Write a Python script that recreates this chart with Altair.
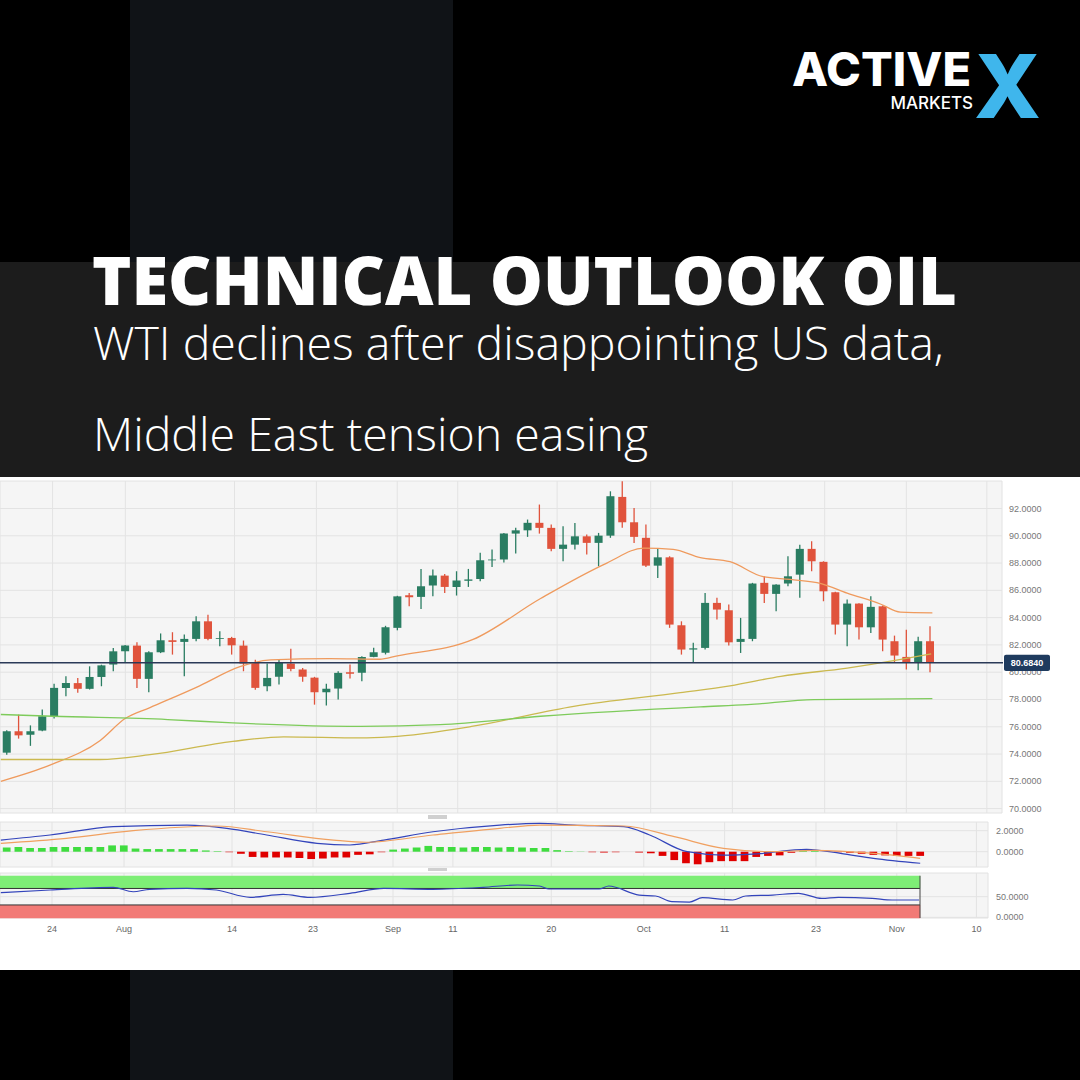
import altair as alt
import pandas as pd
import numpy as np

# ---------------- data ----------------
TITLE = "TECHNICAL OUTLOOK OIL"
SUB1 = "WTI declines after disappointing US data,"
SUB2 = "Middle East tension easing"

opens = [74.1, 75.67, 75.42, 75.72, 76.77, 78.85, 79.2, 78.78, 79.65, 80.56,
         81.53, 81.95, 79.51, 81.46, 82.34, 82.22, 82.44, 83.73, 82.44, 82.51,
         81.95, 80.68, 78.97, 79.66, 80.63, 80.19, 79.6, 78.53, 78.8, 80.0,
         79.95, 81.12, 81.42, 83.25, 85.64, 85.52, 86.35, 87.08, 86.25, 86.7,
         86.84, 88.2, 88.26, 90.16, 90.4, 90.95, 90.58, 89.04, 89.35, 89.96,
         89.48, 90.01, 92.85, 90.99, 89.85, 87.81, 88.42, 83.44, 81.66, 81.78,
         85.08, 84.54, 82.22, 82.44, 86.55, 85.74, 86.5, 87.15, 89.04, 88.09,
         85.86, 83.49, 85.03, 83.29, 84.83, 82.27, 81.12, 80.68, 82.27]
highs = [75.75, 76.89, 76.1, 77.26, 79.15, 79.7, 79.58, 80.43, 80.55, 81.78,
         82.0, 82.19, 81.53, 82.84, 82.93, 82.76, 84.1, 84.22, 83.0, 82.59,
         82.32, 80.92, 80.63, 80.92, 81.71, 80.3, 79.66, 79.16, 80.07, 80.56,
         81.17, 81.8, 83.4, 85.6, 85.81, 87.57, 87.52, 87.2, 87.4, 87.57,
         88.75, 88.99, 90.21, 90.58, 91.19, 92.29, 90.82, 90.7, 90.94, 90.09,
         90.21, 93.26, 94.0, 92.04, 90.82, 89.11, 88.5, 83.73, 82.15, 85.81,
         85.45, 84.96, 83.98, 86.55, 87.03, 86.45, 88.5, 89.35, 89.6, 88.13,
         85.9, 85.32, 85.06, 85.56, 84.88, 82.68, 83.12, 82.59, 83.37]
lows = [73.95, 75.13, 74.6, 75.67, 76.6, 78.23, 78.5, 78.73, 78.97, 80.07,
        80.68, 78.85, 78.53, 81.4, 81.29, 79.7, 82.27, 82.34, 81.9, 81.29,
        80.07, 78.72, 78.6, 79.1, 80.07, 79.3, 77.62, 77.55, 77.99, 79.53,
        79.33, 81.1, 81.3, 83.07, 84.83, 84.64, 85.56, 85.8, 85.62, 86.25,
        86.66, 87.72, 88.05, 88.7, 89.92, 90.16, 88.86, 88.13, 88.99, 88.62,
        87.76, 89.85, 90.58, 89.48, 87.72, 86.91, 83.25, 81.29, 80.68, 81.66,
        83.86, 81.95, 81.41, 82.27, 85.08, 84.46, 86.3, 85.45, 87.4, 85.2,
        82.76, 81.9, 82.39, 82.88, 81.53, 80.68, 80.19, 80.14, 80.0]
closes = [75.67, 75.37, 75.67, 76.77, 78.85, 79.2, 78.78, 79.65, 80.5, 81.53,
          81.95, 79.51, 81.46, 82.34, 82.22, 82.44, 83.73, 82.44, 82.5, 81.97,
          80.63, 78.85, 79.58, 80.68, 80.24, 79.66, 78.53, 78.78, 79.95, 79.88,
          81.12, 81.46, 83.29, 85.56, 85.49, 86.3, 87.08, 86.25, 86.72, 86.8,
          88.2, 88.26, 90.16, 90.4, 90.95, 90.58, 89.04, 89.35, 89.96, 89.48,
          90.01, 92.9, 90.99, 89.92, 87.81, 88.42, 83.49, 81.66, 81.75, 85.08,
          84.59, 82.19, 82.44, 86.5, 85.74, 86.42, 87.03, 89.04, 88.13, 85.93,
          83.49, 85.03, 83.29, 84.79, 82.39, 81.22, 80.73, 82.27, 80.68]

ma_fast_i = [-0.5, 3.7, 7.9, 10, 12.1, 16.3, 19.7, 22.3, 27.3, 31.5, 33, 39.4, 45.1,
             50.7, 53.8, 56.3, 58.6, 61.1, 63.9, 66.2, 68.8, 71.0, 73.8, 75.5, 78.2]
ma_fast_v = [72.0, 73.2, 75.0, 76.6, 77.4, 79.0, 80.4, 80.9, 81.0, 80.95, 81.2, 82.4, 85.4,
             88.0, 89.1, 89.0, 88.4, 88.1, 87.0, 86.8, 86.5, 85.8, 85.0, 84.4, 84.35]
ma_mid_i = [-0.5, 7.9, 12.1, 19.1, 23.4, 29.9, 32.4, 39.4, 47.9, 56.9, 61.1, 65.4, 71.0, 75.3, 78.1]
ma_mid_v = [73.6, 73.6, 73.95, 74.93, 75.26, 75.18, 75.26, 76.04, 77.5, 78.5, 79.0, 79.7, 80.3, 80.9, 81.35]
ma_slow_i = [-0.5, 3.9, 13.6, 19.1, 29.9, 36.6, 45.1, 58.6, 62.6, 68.2, 78.2]
ma_slow_v = [76.9, 76.77, 76.53, 76.28, 76.03, 76.16, 76.77, 77.46, 77.62, 77.99, 78.06]

last_price = 80.684

macd_hist = [0.4, 0.45, 0.35, 0.35, 0.45, 0.45, 0.45, 0.45, 0.45, 0.6,
             0.6, 0.3, 0.25, 0.25, 0.25, 0.25, 0.25, 0.12, 0.05, -0.05,
             -0.2, -0.5, -0.55, -0.55, -0.55, -0.6, -0.7, -0.65, -0.55, -0.55,
             -0.3, -0.25, -0.05, 0.2, 0.3, 0.4, 0.55, 0.45, 0.45, 0.4,
             0.45, 0.45, 0.4, 0.45, 0.4, 0.35, 0.35, 0.15, 0.05, 0.02,
             -0.05, -0.08, -0.05, 0.0, -0.08, -0.15, -0.4, -0.8, -1.1, -1.2,
             -1.0, -0.9, -0.9, -0.9, -0.5, -0.4, -0.35, -0.1, 0.1, 0.15,
             0.0, -0.05, -0.1, -0.2, -0.3, -0.35, -0.4, -0.4, -0.4]
macd_line_i = [-0.5, 3.7, 9.1, 15.4, 18.8, 22.2, 26.5, 29.3, 32.2, 36.4, 42.1, 45.5,
               48.4, 52.7, 54.9, 58.1, 61.2, 64.1, 68.3, 71.2, 74.0, 78.0]
macd_line_v = [1.11, 1.59, 2.38, 2.54, 2.23, 1.59, 0.8, 0.64, 1.11, 1.9, 2.54, 2.7,
               2.54, 2.38, 1.59, 0.0, -0.32, -0.2, 0.22, -0.16, -0.63, -1.1]
macd_sig_i = [-0.5, 5.1, 10.8, 17.9, 22.2, 27.9, 30.7, 36.4, 42.1, 45.5, 52.7, 57.0,
              61.2, 65.5, 68.9, 74.0, 78.0]
macd_sig_v = [0.8, 1.27, 2.0, 2.45, 1.9, 1.11, 0.9, 1.59, 2.23, 2.54, 2.45, 1.43,
              0.32, 0.0, 0.13, -0.16, -0.63]

rsi_i = [-0.5, 3.7, 9.1, 10.8, 12.2, 15.4, 17.9, 20.8, 23.6, 25.9, 29.3, 32.2, 36.4,
         40.7, 43.6, 45.5, 46.3, 50.6, 51.4, 54.0, 55.4, 56.8, 58.3, 59.4, 62.0, 63.1,
         65.4, 67.6, 69.6, 71.0, 73.9, 75.6, 77.9]
rsi_v = [59.7, 66.3, 72.8, 62.0, 68.0, 70.4, 66.3, 48.5, 55.8, 48.5, 58.3, 70.4, 68.0,
         72.8, 78.4, 76.0, 68.7, 68.7, 76.0, 54.0, 51.7, 37.9, 37.0, 47.6, 42.0, 51.7,
         54.0, 58.3, 46.0, 48.5, 46.0, 42.0, 42.0]

price_ticks = [70, 72, 74, 76, 78, 80, 82, 84, 86, 88, 90, 92]
macd_ticks = [2, 0]
rsi_ticks = [50, 0]
date_pos = [3.87, 10.02, 19.24, 26.16, 32.99, 38.1, 46.5, 54.4, 61.3, 69.1, 76.0, 82.8]
date_lab = ["24", "Aug", "14", "23", "Sep", "11", "20", "Oct", "11", "23", "Nov", "10"]

# ---------------- frames ----------------
candles = pd.DataFrame({"i": range(len(opens)), "o": opens, "h": highs, "l": lows, "c": closes})
candles["dir"] = np.where(candles["c"] >= candles["o"], "up", "down")
ma = pd.concat([
    pd.DataFrame({"i": ma_fast_i, "v": ma_fast_v, "s": "fast"}),
    pd.DataFrame({"i": ma_mid_i, "v": ma_mid_v, "s": "mid"}),
    pd.DataFrame({"i": ma_slow_i, "v": ma_slow_v, "s": "slow"}),
])
hist = pd.DataFrame({"i": range(len(macd_hist)), "v": macd_hist})
hist["dir"] = np.where(hist["v"] >= 0, "up", "down")
macd = pd.concat([
    pd.DataFrame({"i": macd_line_i, "v": macd_line_v, "s": "macd"}),
    pd.DataFrame({"i": macd_sig_i, "v": macd_sig_v, "s": "signal"}),
])
rsi = pd.DataFrame({"i": rsi_i, "v": rsi_v})
pticks = pd.DataFrame({"t": price_ticks})
mticks = pd.DataFrame({"t": macd_ticks})
rticks = pd.DataFrame({"t": rsi_ticks})
dates = pd.DataFrame({"p": date_pos, "lab": date_lab})
one = pd.DataFrame({"a": [0]})
lastdf = pd.DataFrame({"p": [last_price]})

# ---------------- scales ----------------
X_MAIN = alt.Scale(domain=[-0.57, 78], range=[0, 930], nice=False, zero=False)
X_LOW = alt.Scale(domain=[-0.57, 78], range=[0, 920.2], nice=False, zero=False)
Y_PRICE = alt.Scale(domain=[70, 92], range=[808.6, 508.5], nice=False, zero=False)
Y_MACD = alt.Scale(domain=[0, 2], range=[851.7, 830.7], nice=False, zero=False)
Y_RSI = alt.Scale(domain=[0, 50], range=[917.3, 896.7], nice=False, zero=False)

GREEN_C = "#2a7d62"
RED_C = "#e0533c"
FONT_AX = "Liberation Sans"
FONT_T = "Open Sans"


def rect(x, x2, y, y2, color, **kw):
    return alt.Chart(one).mark_rect(color=color, **kw).encode(
        x=alt.value(x), x2=alt.value(x2), y=alt.value(y), y2=alt.value(y2))


def text(s, x, y, **kw):
    return alt.Chart(one).mark_text(text=s, **kw).encode(x=alt.value(x), y=alt.value(y))


layers = []
# backgrounds
layers.append(rect(0, 1080, 0, 1080, "#000000"))
layers.append(rect(130, 453, 0, 262, "#101317"))
layers.append(rect(0, 1080, 262, 477, "#1c1c1c"))
layers.append(rect(130, 453, 970, 1080, "#101317"))
layers.append(rect(0, 1080, 477, 970, "#ffffff"))
layers.append(rect(0, 1002, 481, 813, "#f5f5f5", stroke="#e2e2e2", strokeWidth=1))
layers.append(rect(0, 988, 822, 867, "#f5f5f5", stroke="#e2e2e2", strokeWidth=1))
layers.append(rect(0, 988, 873, 918, "#f5f5f5", stroke="#e2e2e2", strokeWidth=1))
layers.append(rect(428, 447, 815, 819, "#d0d0d0"))
layers.append(rect(428, 447, 868, 871, "#d0d0d0"))

# grid lines
layers.append(alt.Chart(pticks).mark_rule(color="#e3e3e3", strokeWidth=1).encode(
    y=alt.Y("t:Q", scale=Y_PRICE, axis=None), x=alt.value(0), x2=alt.value(1002)))
layers.append(alt.Chart(dates).mark_rule(color="#e3e3e3", strokeWidth=1).encode(
    x=alt.X("p:Q", scale=X_MAIN, axis=None), y=alt.value(481), y2=alt.value(813)))
layers.append(alt.Chart(dates).mark_rule(color="#e3e3e3", strokeWidth=1).encode(
    x=alt.X("p:Q", scale=X_LOW, axis=None), y=alt.value(822), y2=alt.value(867)))
layers.append(alt.Chart(dates).mark_rule(color="#e3e3e3", strokeWidth=1).encode(
    x=alt.X("p:Q", scale=X_LOW, axis=None), y=alt.value(873), y2=alt.value(918)))
layers.append(alt.Chart(mticks).mark_rule(color="#e3e3e3", strokeWidth=1).encode(
    y=alt.Y("t:Q", scale=Y_MACD, axis=None), x=alt.value(0), x2=alt.value(988)))
layers.append(alt.Chart(rticks).mark_rule(color="#e3e3e3", strokeWidth=1).encode(
    y=alt.Y("t:Q", scale=Y_RSI, axis=None), x=alt.value(0), x2=alt.value(988)))

# RSI bands
bands = pd.DataFrame({"a": [-0.57, -0.57], "b": [78, 78], "lo": [70, -2.5], "hi": [101, 30],
                      "k": ["ob", "os"]})
layers.append(alt.Chart(bands).mark_rect(opacity=1).encode(
    x=alt.X("a:Q", scale=X_LOW, axis=None), x2="b:Q",
    y=alt.Y("lo:Q", scale=alt.Scale(domain=[0, 50], range=[917.3, 896.7], nice=False, zero=False), axis=None),
    y2="hi:Q",
    color=alt.Color("k:N", scale=alt.Scale(domain=["ob", "os"], range=["#7eee76", "#f27a76"]), legend=None)))
layers.append(alt.Chart(pd.DataFrame({"t": [70, 30]})).mark_rule(color="#333333", strokeWidth=1).encode(
    y=alt.Y("t:Q", scale=Y_RSI, axis=None), x=alt.value(0), x2=alt.value(920)))
layers.append(rect(919.5, 920.5, 875.7, 918, "#444444"))

# MACD histogram
layers.append(alt.Chart(hist).transform_calculate(
    x1="datum.i - 0.33", x2="datum.i + 0.33", z="0").mark_rect().encode(
    x=alt.X("x1:Q", scale=X_LOW, axis=None), x2="x2:Q",
    y=alt.Y("v:Q", scale=Y_MACD, axis=None), y2="z:Q",
    color=alt.Color("dir:N", scale=alt.Scale(domain=["up", "down"], range=["#3fdc3f", "#e00000"]), legend=None)))
layers.append(alt.Chart(macd).mark_line(strokeWidth=1.2, interpolate="monotone").encode(
    x=alt.X("i:Q", scale=X_LOW, axis=None),
    y=alt.Y("v:Q", scale=Y_MACD, axis=None),
    color=alt.Color("s:N", scale=alt.Scale(domain=["macd", "signal"], range=["#3344bb", "#f0a060"]), legend=None)))
layers.append(alt.Chart(rsi).mark_line(strokeWidth=1.2, color="#3344bb", interpolate="monotone").encode(
    x=alt.X("i:Q", scale=X_LOW, axis=None),
    y=alt.Y("v:Q", scale=Y_RSI, axis=None)))

# candles
cscale = alt.Scale(domain=["up", "down"], range=[GREEN_C, RED_C])
layers.append(alt.Chart(candles).mark_rule(strokeWidth=1.3).encode(
    x=alt.X("i:Q", scale=X_MAIN, axis=None),
    y=alt.Y("l:Q", scale=Y_PRICE, axis=None), y2="h:Q",
    color=alt.Color("dir:N", scale=cscale, legend=None)))
layers.append(alt.Chart(candles).transform_calculate(
    x1="datum.i - 0.34", x2="datum.i + 0.34").mark_rect().encode(
    x=alt.X("x1:Q", scale=X_MAIN, axis=None), x2="x2:Q",
    y=alt.Y("o:Q", scale=Y_PRICE, axis=None), y2="c:Q",
    color=alt.Color("dir:N", scale=cscale, legend=None)))

# moving averages
layers.append(alt.Chart(ma).mark_line(strokeWidth=1.3, interpolate="monotone").encode(
    x=alt.X("i:Q", scale=X_MAIN, axis=None),
    y=alt.Y("v:Q", scale=Y_PRICE, axis=None),
    color=alt.Color("s:N", scale=alt.Scale(domain=["fast", "mid", "slow"],
                                           range=["#ef9a5d", "#cbb94f", "#7ecb5b"]), legend=None),
    detail="s:N"))

# last price line
layers.append(alt.Chart(lastdf).mark_rule(color="#2b3a58", strokeWidth=1.5).encode(
    y=alt.Y("p:Q", scale=Y_PRICE, axis=None), x=alt.value(0), x2=alt.value(1003)))

# axis labels
layers.append(alt.Chart(pticks).mark_text(align="left", baseline="middle", font=FONT_AX,
                                          fontSize=9, color="#777777").encode(
    y=alt.Y("t:Q", scale=Y_PRICE, axis=None), x=alt.value(1009),
    text=alt.Text("t:Q", format=".4f")))
layers.append(alt.Chart(mticks).mark_text(align="left", baseline="middle", font=FONT_AX,
                                          fontSize=9, color="#777777").encode(
    y=alt.Y("t:Q", scale=Y_MACD, axis=None), x=alt.value(996),
    text=alt.Text("t:Q", format=".4f")))
layers.append(alt.Chart(rticks).mark_text(align="left", baseline="middle", font=FONT_AX,
                                          fontSize=9, color="#777777").encode(
    y=alt.Y("t:Q", scale=Y_RSI, axis=None), x=alt.value(996),
    text=alt.Text("t:Q", format=".4f")))
layers.append(alt.Chart(dates).mark_text(align="center", baseline="middle", font=FONT_AX,
                                         fontSize=9, color="#666666").encode(
    x=alt.X("p:Q", scale=X_LOW, axis=None), y=alt.value(929), text="lab:N"))

# last price tag
layers.append(alt.Chart(lastdf).transform_calculate(a="datum.p + 0.6", b="datum.p - 0.6").mark_rect(
    color="#1f3b5e", cornerRadius=2).encode(
    y=alt.Y("a:Q", scale=Y_PRICE, axis=None), y2="b:Q", x=alt.value(1004), x2=alt.value(1050)))
layers.append(alt.Chart(lastdf).mark_text(align="center", baseline="middle", font=FONT_AX,
                                          fontSize=9, color="#ffffff", fontWeight="bold").encode(
    y=alt.Y("p:Q", scale=Y_PRICE, axis=None), x=alt.value(1027),
    text=alt.Text("p:Q", format=".4f")))

# headline texts
layers.append(text(TITLE, 92, 305, align="left", baseline="alphabetic", font=FONT_T,
                   fontSize=66.8, fontWeight=800, color="#ffffff"))
layers.append(text(SUB1, 93, 360, align="left", baseline="alphabetic", font=FONT_T,
                   fontSize=46.5, fontWeight=300, color="#ffffff"))
layers.append(text(SUB2, 93, 451, align="left", baseline="alphabetic", font=FONT_T,
                   fontSize=46.5, fontWeight=300, color="#ffffff"))

# logo
layers.append(text("ACTIVE", 792, 86, align="left", baseline="alphabetic", font="Inter",
                   fontSize=47, fontWeight=800, color="#ffffff"))
layers.append(text("X", 974, 118, align="left", baseline="alphabetic", font="Inter",
                   fontSize=88, fontWeight=800, color="#3fb6ec"))
layers.append(text("MARKETS", 973, 109, align="right", baseline="alphabetic", font="Inter",
                   fontSize=17, fontWeight=500, color="#ffffff"))

chart = alt.layer(*layers).resolve_scale(
    x="independent", y="independent", color="independent"
).properties(
    width=1080, height=1080, padding=0,
    autosize=alt.AutoSizeParams(type="none"),
    background="#000000",
).configure_view(stroke=None)

chart.save("out.html", embed_options={"renderer": "svg", "actions": False})
